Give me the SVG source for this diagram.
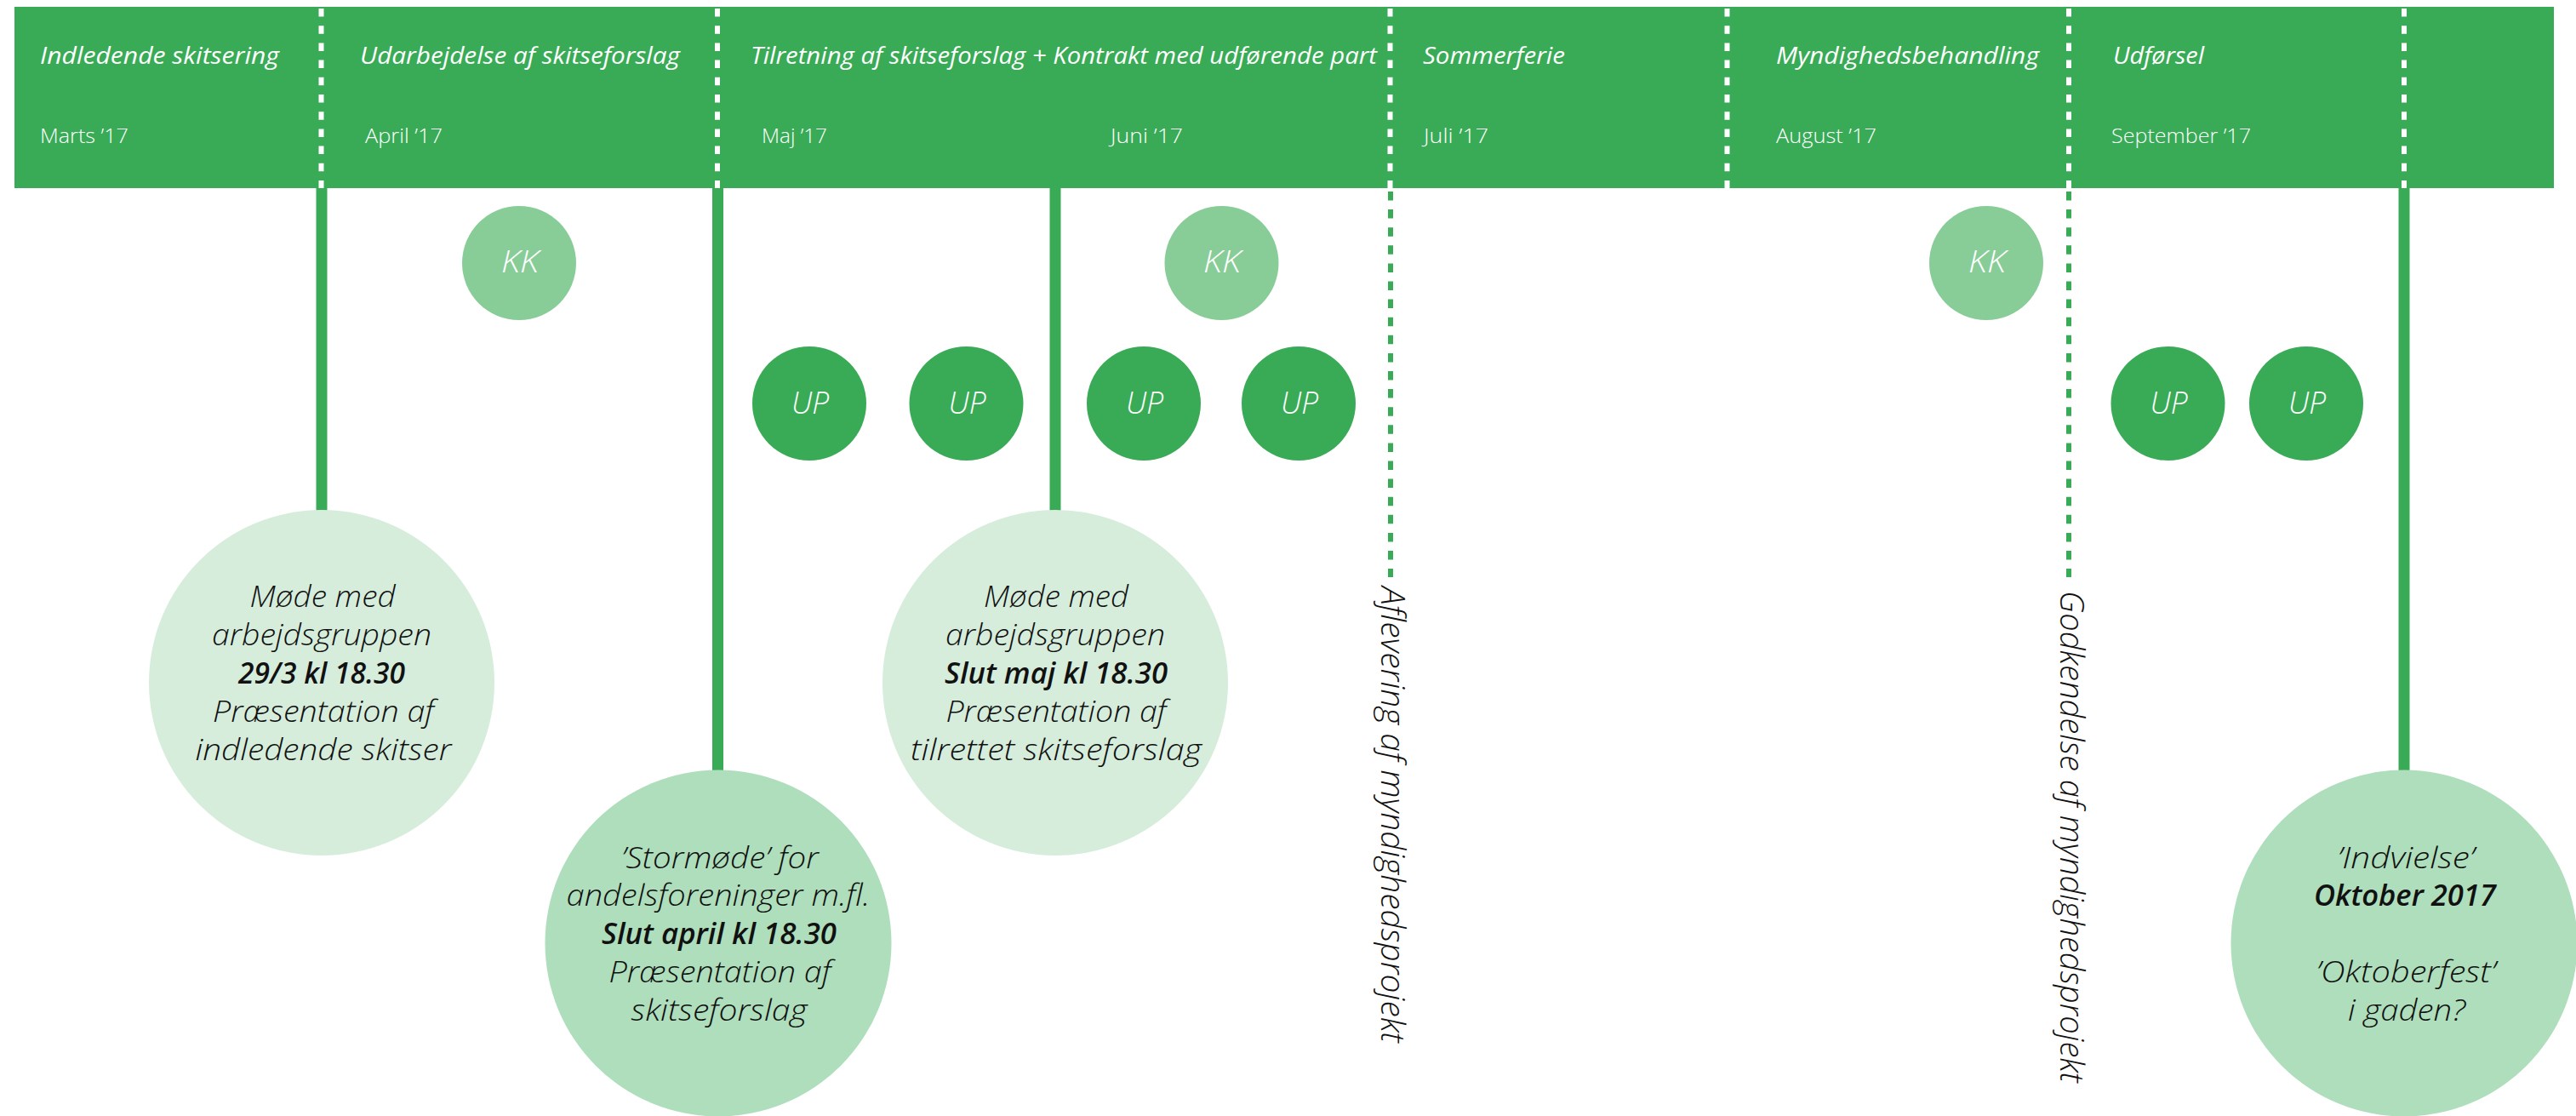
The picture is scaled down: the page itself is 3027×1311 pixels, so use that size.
<svg xmlns="http://www.w3.org/2000/svg" width="3027" height="1311" viewBox="0 0 3027 1311">
<style>
.bar{fill:#39ab56}
.sep{stroke:#ffffff;stroke-width:6;stroke-dasharray:9.5 10.7;fill:none}
.leg{stroke:#39ab56;stroke-width:13;fill:none}
.legd{stroke:#39ab56;stroke-width:6;stroke-dasharray:10.5 10.6;fill:none}
.title{font-family:"Open Sans","Liberation Sans",sans-serif;font-style:italic;font-size:27px;fill:#ffffff}
.month{font-family:"Open Sans","Liberation Sans",sans-serif;font-weight:300;font-size:23px;fill:#ffffff}
.kk{fill:#88cd97}
.up{fill:#39ab56}
.tag{font-family:"Open Sans","Liberation Sans",sans-serif;font-style:italic;font-weight:300;font-size:36px;fill:#ffffff;text-anchor:middle}
.m1{fill:#d6eddc}
.m2{fill:#aedebb}
.ct{font-family:"Open Sans","Liberation Sans",sans-serif;font-style:italic;font-weight:300;font-size:35px;fill:#111111;text-anchor:middle}
.cb{font-weight:600}
.vt{font-family:"Open Sans","Liberation Sans",sans-serif;font-style:italic;font-weight:300;font-size:38px;fill:#111111}
</style>

<g id="header">
  <rect class="bar" x="17" y="8" width="2984" height="213"/>
  <g id="phase-1">
    <text class="title" x="47" y="75" textLength="281" lengthAdjust="spacingAndGlyphs">Indledende skitsering</text>
    <text class="month" x="47" y="168" textLength="104" lengthAdjust="spacingAndGlyphs">Marts ’17</text>
  </g>
  <g id="phase-2">
    <text class="title" x="423" y="75" textLength="376" lengthAdjust="spacingAndGlyphs">Udarbejdelse af skitseforslag</text>
    <text class="month" x="429" y="168" textLength="91" lengthAdjust="spacingAndGlyphs">April ’17</text>
  </g>
  <g id="phase-3">
    <text class="title" x="882" y="75" textLength="736" lengthAdjust="spacingAndGlyphs">Tilretning af skitseforslag + Kontrakt med udførende part</text>
    <text class="month" x="895" y="168" textLength="77" lengthAdjust="spacingAndGlyphs">Maj ’17</text>
    <text class="month" x="1305" y="168" textLength="85" lengthAdjust="spacingAndGlyphs">Juni ’17</text>
  </g>
  <g id="phase-4">
    <text class="title" x="1672" y="75" textLength="167" lengthAdjust="spacingAndGlyphs">Sommerferie</text>
    <text class="month" x="1673" y="168" textLength="76" lengthAdjust="spacingAndGlyphs">Juli ’17</text>
  </g>
  <g id="phase-5">
    <text class="title" x="2087" y="75" textLength="309" lengthAdjust="spacingAndGlyphs">Myndighedsbehandling</text>
    <text class="month" x="2087" y="168" textLength="118" lengthAdjust="spacingAndGlyphs">August ’17</text>
  </g>
  <g id="phase-6">
    <text class="title" x="2483" y="75" textLength="107" lengthAdjust="spacingAndGlyphs">Udførsel</text>
    <text class="month" x="2481" y="168" textLength="164" lengthAdjust="spacingAndGlyphs">September ’17</text>
  </g>
  <g id="separators">
    <line class="sep" x1="377.5" y1="10" x2="377.5" y2="221"/>
    <line class="sep" x1="843" y1="10" x2="843" y2="221"/>
    <line class="sep" x1="1633.5" y1="10" x2="1633.5" y2="221"/>
    <line class="sep" x1="2029.5" y1="10" x2="2029.5" y2="221"/>
    <line class="sep" x1="2431" y1="10" x2="2431" y2="221"/>
    <line class="sep" x1="2825" y1="10" x2="2825" y2="221"/>
  </g>
</g>

<g id="connectors">
  <line class="leg" x1="378" y1="221" x2="378" y2="602"/>
  <line class="leg" x1="843.5" y1="221" x2="843.5" y2="908"/>
  <line class="leg" x1="1240" y1="221" x2="1240" y2="602"/>
  <line class="legd" x1="1634" y1="225" x2="1634" y2="678"/>
  <line class="legd" x1="2431" y1="225" x2="2431" y2="678"/>
  <line class="leg" x1="2825" y1="221" x2="2825" y2="908"/>
</g>

<g id="kk-1"><circle class="kk" cx="610" cy="309" r="67"/><text class="tag" x="611" y="320" textLength="44" lengthAdjust="spacingAndGlyphs">KK</text></g>
<g id="kk-2"><circle class="kk" cx="1435.5" cy="309" r="67"/><text class="tag" x="1436" y="320" textLength="44" lengthAdjust="spacingAndGlyphs">KK</text></g>
<g id="kk-3"><circle class="kk" cx="2334" cy="309" r="67"/><text class="tag" x="2335" y="320" textLength="44" lengthAdjust="spacingAndGlyphs">KK</text></g>

<g id="up-1"><circle class="up" cx="951" cy="474" r="67"/><text class="tag" x="952" y="486" textLength="44" lengthAdjust="spacingAndGlyphs">UP</text></g>
<g id="up-2"><circle class="up" cx="1135.5" cy="474" r="67"/><text class="tag" x="1136.5" y="486" textLength="44" lengthAdjust="spacingAndGlyphs">UP</text></g>
<g id="up-3"><circle class="up" cx="1344" cy="474" r="67"/><text class="tag" x="1345" y="486" textLength="44" lengthAdjust="spacingAndGlyphs">UP</text></g>
<g id="up-4"><circle class="up" cx="1526" cy="474" r="67"/><text class="tag" x="1527" y="486" textLength="44" lengthAdjust="spacingAndGlyphs">UP</text></g>
<g id="up-5"><circle class="up" cx="2547.5" cy="474" r="67"/><text class="tag" x="2548.5" y="486" textLength="44" lengthAdjust="spacingAndGlyphs">UP</text></g>
<g id="up-6"><circle class="up" cx="2710" cy="474" r="67"/><text class="tag" x="2711" y="486" textLength="44" lengthAdjust="spacingAndGlyphs">UP</text></g>

<g id="meeting-1">
  <circle class="m1" cx="378" cy="802" r="203"/>
  <text class="ct" x="379" y="713" textLength="171" lengthAdjust="spacingAndGlyphs">Møde med</text>
  <text class="ct" x="378" y="758" textLength="258" lengthAdjust="spacingAndGlyphs">arbejdsgruppen</text>
  <text class="ct cb" x="378" y="803" textLength="196" lengthAdjust="spacingAndGlyphs">29/3 kl 18.30</text>
  <text class="ct" x="380" y="848" textLength="260" lengthAdjust="spacingAndGlyphs">Præsentation af</text>
  <text class="ct" x="380" y="893" textLength="301" lengthAdjust="spacingAndGlyphs">indledende skitser</text>
</g>

<g id="meeting-2">
  <circle class="m2" cx="844" cy="1108" r="203.5"/>
  <text class="ct" x="846" y="1020" textLength="232" lengthAdjust="spacingAndGlyphs">’Stormøde’ for</text>
  <text class="ct" x="844" y="1064" textLength="357" lengthAdjust="spacingAndGlyphs">andelsforeninger m.fl.</text>
  <text class="ct cb" x="845" y="1109" textLength="276" lengthAdjust="spacingAndGlyphs">Slut april kl 18.30</text>
  <text class="ct" x="846" y="1154" textLength="261" lengthAdjust="spacingAndGlyphs">Præsentation af</text>
  <text class="ct" x="845" y="1199" textLength="207" lengthAdjust="spacingAndGlyphs">skitseforslag</text>
</g>

<g id="meeting-3">
  <circle class="m1" cx="1240" cy="802" r="203"/>
  <text class="ct" x="1241" y="713" textLength="170" lengthAdjust="spacingAndGlyphs">Møde med</text>
  <text class="ct" x="1240" y="758" textLength="258" lengthAdjust="spacingAndGlyphs">arbejdsgruppen</text>
  <text class="ct cb" x="1241" y="803" textLength="262" lengthAdjust="spacingAndGlyphs">Slut maj kl 18.30</text>
  <text class="ct" x="1241" y="848" textLength="259" lengthAdjust="spacingAndGlyphs">Præsentation af</text>
  <text class="ct" x="1241" y="893" textLength="342" lengthAdjust="spacingAndGlyphs">tilrettet skitseforslag</text>
</g>

<g id="meeting-4">
  <circle class="m2" cx="2825" cy="1108" r="203.5"/>
  <text class="ct" x="2827" y="1020" textLength="161" lengthAdjust="spacingAndGlyphs">’Indvielse’</text>
  <text class="ct cb" x="2826" y="1064" textLength="214" lengthAdjust="spacingAndGlyphs">Oktober 2017</text>
  <text class="ct" x="2827" y="1154" textLength="211" lengthAdjust="spacingAndGlyphs">’Oktoberfest’</text>
  <text class="ct" x="2828" y="1199" textLength="138" lengthAdjust="spacingAndGlyphs">i gaden?</text>
</g>

<g id="label-aflevering">
  <text class="vt" transform="translate(1623 689) rotate(90)" x="0" y="0" textLength="536" lengthAdjust="spacingAndGlyphs">Aflevering af myndighedsprojekt</text>
</g>
<g id="label-godkendelse">
  <text class="vt" transform="translate(2421 694) rotate(90)" x="0" y="0" textLength="578" lengthAdjust="spacingAndGlyphs">Godkendelse af myndighedsprojekt</text>
</g>
</svg>
